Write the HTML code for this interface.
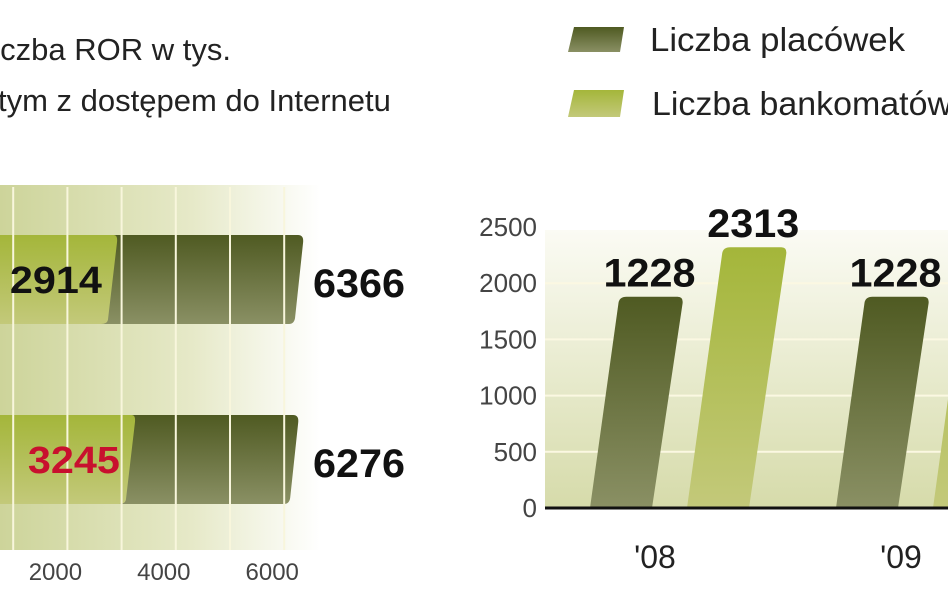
<!DOCTYPE html>
<html><head><meta charset="utf-8"><style>
html,body{margin:0;padding:0;background:#fff;width:948px;height:593px;overflow:hidden}
svg{display:block;font-family:"Liberation Sans",sans-serif}
</style></head><body>
<svg id="c" width="948" height="593" viewBox="0 0 948 593">
<defs>
<linearGradient id="bgL" x1="0" y1="0" x2="1" y2="0"><stop offset="0" stop-color="#cdd49a"/><stop offset="0.6" stop-color="#e6e9c8"/><stop offset="1" stop-color="#ffffff"/></linearGradient>
<linearGradient id="bgR" x1="0" y1="0" x2="0" y2="1"><stop offset="0" stop-color="#fbfbf4"/><stop offset="1" stop-color="#d6dbaa"/></linearGradient>
<linearGradient id="dark" x1="0" y1="0" x2="0" y2="1"><stop offset="0" stop-color="#4f5a22"/><stop offset="1" stop-color="#8a9064"/></linearGradient>
<linearGradient id="light" x1="0" y1="0" x2="0" y2="1"><stop offset="0" stop-color="#a4b63a"/><stop offset="1" stop-color="#c3c97a"/></linearGradient>
</defs>
<g font-size="31" fill="#222">
<text x="-24" y="60">Liczba ROR w tys.</text>
<text x="-33" y="111">w tym z dostępem do Internetu</text>
</g>
<g font-size="33" fill="#222">
<path d="M574 27 H624 L620 52 H568 Z" fill="url(#dark)"/>
<text x="650" y="51" textLength="255" lengthAdjust="spacingAndGlyphs">Liczba placówek</text>
<path d="M574 90 H624 L620 117 H568 Z" fill="url(#light)"/>
<text x="652" y="115" textLength="300" lengthAdjust="spacingAndGlyphs">Liczba bankomatów</text>
</g>
<g id="left"></g>
<g id="right"></g>
</svg>
<script>
const rorTotal = [6366, 6276];
const rorInternet = [2914, 3245];
const rorTicks = [2000, 4000, 6000];
const years = ["'08", "'09"];
const placowki = [1880, 1880];
const placowkiLabels = ["1228", "1228"];
const bankomaty = [2320, 2600];
const bankomatyLabels = ["2313", ""];
const yTicks = [0, 500, 1000, 1500, 2000, 2500];
const NS = "http://www.w3.org/2000/svg";
function mk(p, tag, a, txt){const e=document.createElementNS(NS,tag);for(const k in a)e.setAttribute(k,a[k]);if(txt!==undefined)e.textContent=txt;p.appendChild(e);return e;}
const L=document.getElementById('left');
const hx=v=>-41+v*0.0542;
let bg=mk(L,'rect',{x:0,y:185,width:320,height:365,fill:'url(#bgL)'});


const rowY=[235,415], rowH=89;
rorTotal.forEach((v,i)=>{
  const y=rowY[i], x=hx(v);
  const d=mk(L,'path',{d:`M-5 ${y} H${x-6} Q${x} ${y} ${x-1} ${y+8} L${x-9} ${y+rowH-6} Q${x-10} ${y+rowH} ${x-15} ${y+rowH} H-5 Z`,fill:'url(#dark)'});
  
  
  const xi=hx(rorInternet[i]);
  const l=mk(L,'path',{d:`M-5 ${y} H${xi-3} Q${xi+1} ${y} ${xi} ${y+8} L${xi-9} ${y+rowH-4} Q${xi-10} ${y+rowH} ${xi-16} ${y+rowH} H-5 Z`,fill:'url(#light)'});
  
  
});
for(let v=1000;v<=6000;v+=1000){
  const g=mk(L,'line',{x1:hx(v),x2:hx(v),y1:187,y2:550,stroke:'#f8f6dc','stroke-width':2});
  
  
}
rorTotal.forEach((v,i)=>{
  const t=mk(L,'text',{x:313,y:rowY[i]+62,'font-size':40,'font-weight':'bold',fill:'#111',textLength:92,lengthAdjust:'spacingAndGlyphs'},String(v));
  
  
  const t2=mk(L,'text',{x:hx(rorInternet[i])-15,y:rowY[i]+58,'font-size':38,'font-weight':'bold','text-anchor':'end',fill:i==1?'#c8102e':'#111',textLength:92,lengthAdjust:'spacingAndGlyphs'},String(rorInternet[i]));
  
  
});
rorTicks.forEach(v=>{
  const t=mk(L,'text',{x:hx(v)-12,y:580,'font-size':24,'text-anchor':'middle',fill:'#444'},String(v));
  
  
});
const R=document.getElementById('right');
const vy=v=>508-v*0.1124;
let bg2=mk(R,'rect',{x:545,y:230,width:403,height:278,fill:'url(#bgR)'});


yTicks.forEach(v=>{
  if(v>0&&v<2500){const g=mk(R,'line',{x1:545,x2:948,y1:vy(v),y2:vy(v),stroke:'#fbf8e2','stroke-width':2});
  
  }
  const t=mk(R,'text',{x:537,y:vy(v)+9,'font-size':26,'text-anchor':'end',fill:'#444'},String(v));
  
  
});
const gx=i=>590+i*246;
function slantBar(x0,v,fill,name,lbl){
  const top=vy(v), h=508-top, s=h*0.135, w=62;
  const p=mk(R,'path',{d:`M${x0} 508 L${x0+s} ${top+6} Q${x0+s+1} ${top} ${x0+s+8} ${top} H${x0+s+w-3} Q${x0+s+w+3} ${top} ${x0+s+w+2} ${top+7} L${x0+w} 508 Z`,fill:fill});
  
  
  const t=mk(R,'text',{x:x0+s+w/2,y:top-10,'font-size':40,'font-weight':'bold','text-anchor':'middle',fill:'#111',textLength:92,lengthAdjust:'spacingAndGlyphs'},String(lbl));
  
  
}
years.forEach((yr,i)=>{
  slantBar(gx(i),placowki[i],'url(#dark)','bar-placowki',placowkiLabels[i]);
  slantBar(gx(i)+97,bankomaty[i],'url(#light)','bar-bankomaty',bankomatyLabels[i]);
  const t=mk(R,'text',{x:gx(i)+65,y:568,'font-size':32,'text-anchor':'middle',fill:'#222'},yr);
  
  
});
let ax=mk(R,'line',{x1:545,x2:948,y1:508,y2:508,stroke:'#111','stroke-width':3});


</script>
</body></html>
